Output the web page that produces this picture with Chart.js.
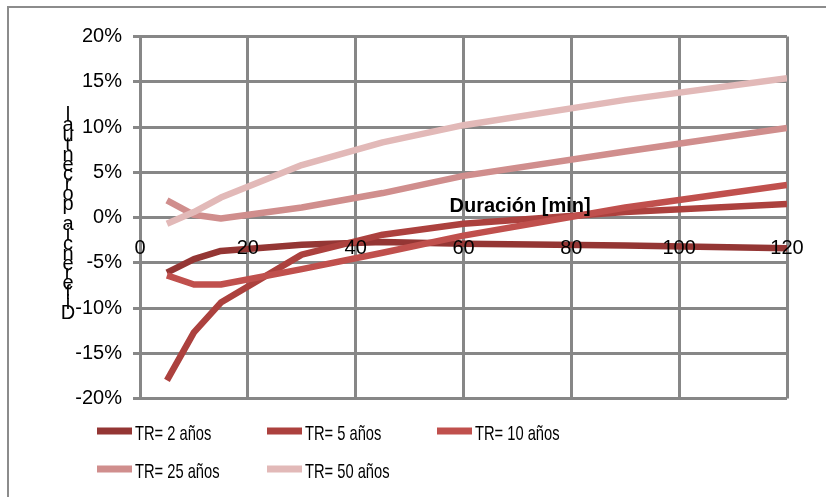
<!DOCTYPE html>
<html>
<head>
<meta charset="utf-8">
<script src="https://cdn.jsdelivr.net/npm/chart.js@4.4.0/dist/chart.umd.min.js"></script>
<style>
  html, body { margin: 0; padding: 0; background: #ffffff; }
  #wrap { width: 826px; height: 497px; position: relative; }
</style>
</head>
<body>
<div id="wrap"><canvas id="c" width="826" height="497"></canvas></div>
<script>
// ---- data ----
const durations = [5, 10, 15, 30, 45, 60, 90, 120];
const seriesLabels = ['TR= 2 años', 'TR= 5 años', 'TR= 10 años', 'TR= 25 años', 'TR= 50 años'];
const tr2  = [-6.1, -4.6, -3.7, -3.0, -2.7, -2.9, -3.1, -3.4];
const tr5  = [-18.0, -12.7, -9.4, -4.1, -1.9, -0.7, 0.6, 1.5];
const tr10 = [-6.4, -7.4, -7.4, -5.7, -3.9, -2.0, 1.1, 3.6];
const tr25 = [1.9, 0.3, -0.1, 1.1, 2.7, 4.6, 7.3, 9.9];
const tr50 = [-0.7, 0.6, 2.2, 5.8, 8.3, 10.2, 13.0, 15.4];
const seriesValues = [tr2, tr5, tr10, tr25, tr50];
const seriesColors = ['#943634', '#AC413E', '#C0504D', '#D08E8D', '#E2B9B8'];
const xTitle = 'Duración [min]';
const yTitle = 'Diferencia porcentual';
const yMin = -20, yMax = 20, yStep = 5;
const xMin = 0, xMax = 120, xStep = 20;

const FONT = "'Liberation Sans', Arial, sans-serif";
const GRID = '#878787';

const datasets = seriesValues.map((vals, i) => ({
  label: seriesLabels[i],
  data: durations.map((d, j) => ({ x: d, y: vals[j] })),
  borderColor: seriesColors[i],
  backgroundColor: seriesColors[i],
  borderWidth: 6.5,
  pointRadius: 0,
  pointHoverRadius: 0,
  tension: 0,
  fill: false,
  borderCapStyle: 'butt',
  borderJoinStyle: 'round',
  order: seriesValues.length - i
}));

const decor = {
  id: 'decor',
  beforeDraw(chart) {
    const ctx = chart.ctx;
    ctx.save();
    ctx.strokeStyle = '#8c8c8c';
    ctx.lineWidth = 2;
    ctx.beginPath();
    ctx.moveTo(8, 497);
    ctx.lineTo(8, 7);
    ctx.lineTo(826, 7);
    ctx.stroke();
    ctx.restore();
  },
  afterDraw(chart) {
    const ctx = chart.ctx;
    ctx.save();
    ctx.fillStyle = '#000';
    // stacked y title (drawn bottom-up like the reference)
    ctx.font = '20px ' + FONT;
    ctx.textAlign = 'center';
    ctx.textBaseline = 'alphabetic';
    const chars = Array.from(yTitle);
    chars.forEach((ch, i) => {
      if (ch === ' ') return;
      ctx.fillText(ch, 68, 319 - i * 9.9);
    });
    // x title above the axis
    const xs = chart.scales.x, ys = chart.scales.y;
    ctx.font = 'bold 20px ' + FONT;
    ctx.textAlign = 'center';
    ctx.fillText(xTitle, xs.getPixelForValue(70.5), ys.getPixelForValue(0) - 6);
    // legend
    const cols = [97, 267, 437];
    const rows = [431, 469];
    chart.data.datasets.forEach((ds, i) => {
      const x = cols[i % 3];
      const y = rows[Math.floor(i / 3)];
      ctx.strokeStyle = ds.borderColor;
      ctx.lineWidth = 7;
      ctx.lineCap = 'butt';
      ctx.beginPath();
      ctx.moveTo(x, y);
      ctx.lineTo(x + 35, y);
      ctx.stroke();
      ctx.save();
      ctx.translate(x + 38, y + 9);
      ctx.scale(0.7, 1);
      ctx.font = '21px ' + FONT;
      ctx.textAlign = 'left';
      ctx.textBaseline = 'alphabetic';
      ctx.fillStyle = '#000';
      ctx.fillText(ds.label, 0, 0);
      ctx.restore();
    });
    ctx.restore();
  }
};

new Chart(document.getElementById('c'), {
  type: 'line',
  data: { datasets },
  options: {
    responsive: false,
    animation: false,
    devicePixelRatio: 1,
    layout: { padding: { left: 0, right: 39, top: 36.5, bottom: 98.5 } },
    plugins: { legend: { display: false }, tooltip: { enabled: false } },
    scales: {
      x: {
        type: 'linear',
        min: xMin, max: xMax,
        position: { y: 0 },
        ticks: {
          stepSize: xStep,
          color: '#000',
          font: { family: FONT, size: 20 },
          padding: 19,
          maxRotation: 0,
          z: 1
        },
        grid: { color: GRID, lineWidth: 3, drawTicks: false },
        border: { display: true, color: GRID, width: 3 }
      },
      y: {
        type: 'linear',
        min: yMin, max: yMax,
        afterFit(scale) { scale.width = 140; },
        ticks: {
          stepSize: yStep,
          color: '#000',
          font: { family: FONT, size: 20 },
          padding: 11,
          callback: (v) => Math.round(v) + '%'
        },
        grid: { color: GRID, lineWidth: 3, drawTicks: true, tickLength: 7, tickColor: GRID },
        border: { display: true, color: GRID, width: 3 }
      }
    }
  },
  plugins: [decor]
});
</script>
</body>
</html>
